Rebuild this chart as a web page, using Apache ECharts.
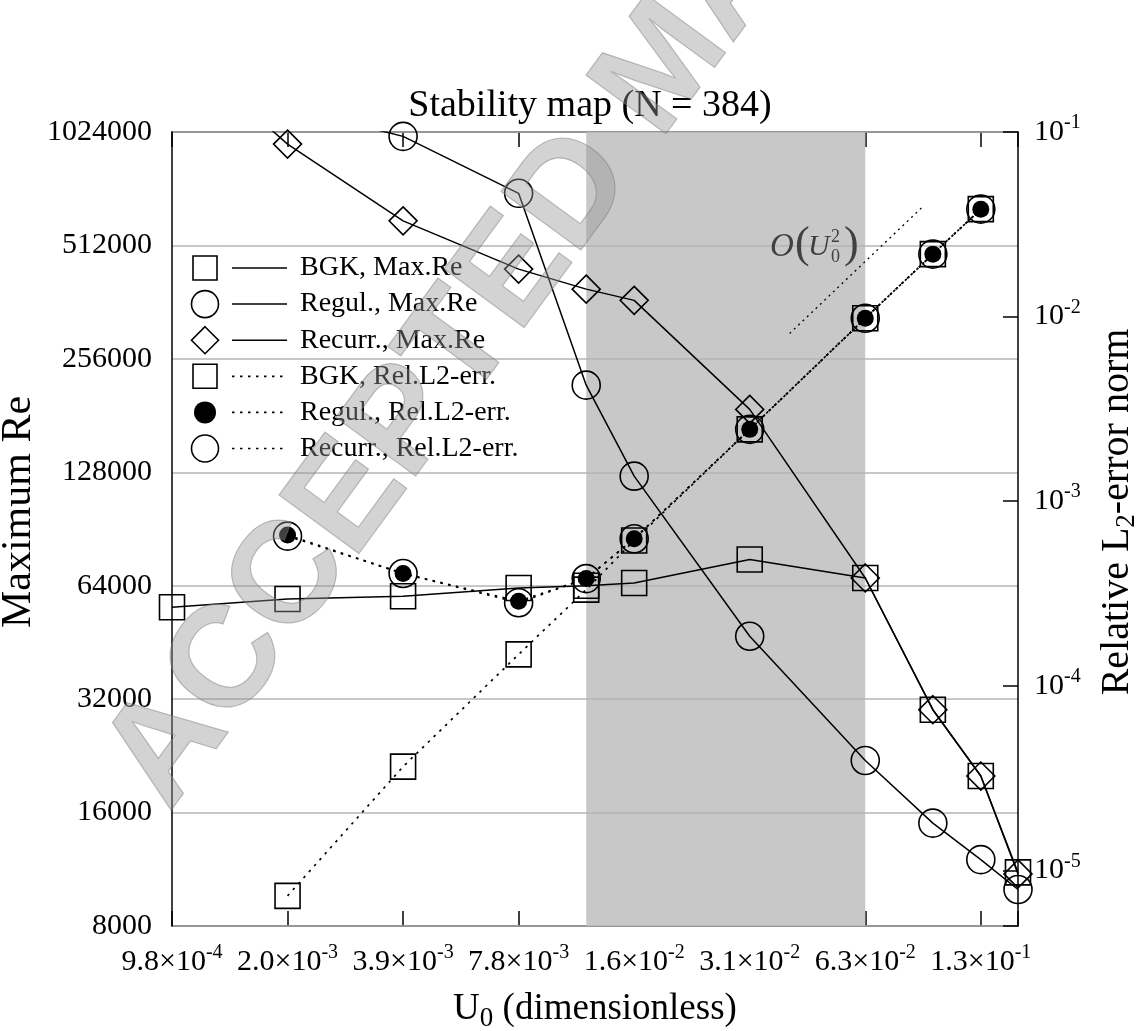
<!DOCTYPE html>
<html>
<head>
<meta charset="utf-8">
<title>Stability map (N = 384)</title>
<script src="https://cdn.jsdelivr.net/npm/echarts@6/dist/echarts.min.js"></script>
<style>
  html, body { margin: 0; padding: 0; background: #fff; }
  #chart { width: 1140px; height: 1031px; }
</style>
</head>
<body>
<div id="chart"></div>
<script>
const SERIF = '"Liberation Serif", "DejaVu Serif", serif'

// U0 of every run (x axis is log2)
const uValues = [0.0009765625, 0.001953125, 0.00390625, 0.0078125, 0.01171875, 0.015625, 0.03125, 0.0625, 0.09375, 0.125, 0.15625]
// maximum stable Re (left axis)
const bgkMaxRe = [56100, 59000, 60000, 63100, 64000, 65100, 75100, 67100, 30000, 20000, 11100]
const regulMaxRe = [null, 1190000, 997000, 704000, 218000, 125000, 47000, 22000, 15000, 12000, 10000]
const recurrMaxRe = [1770000, 951000, 595000, 443000, 392000, 366000, 188000, 67100, 30000, 20000, 11000]

// relative L2 error (right axis), runs from 2^-9 to 2^-3
const uErr = [0.001953125, 0.00390625, 0.0078125, 0.01171875, 0.015625, 0.03125, 0.0625, 0.09375, 0.125]
const bgkErr = [7.28e-6, 3.65e-5, 1.48e-4, 3.32e-4, 6.13e-4, 2.45e-3, 9.8e-3, 2.18e-2, 3.82e-2]
const regulErr = [6.56e-4, 4.06e-4, 2.87e-4, 3.81e-4, 6.26e-4, 2.45e-3, 9.8e-3, 2.18e-2, 3.82e-2]
const recurrErr = [6.47e-4, 4.06e-4, 2.82e-4, 3.81e-4, 6.26e-4, 2.45e-3, 9.8e-3, 2.18e-2, 3.82e-2]

// O(U0^2) guide line
const orderU = [0.0397, 0.0887]
const orderErr = [0.0081, 0.0398]

// shaded band
const stableBand = [0.01171875, 0.0625]

const legendLabels = ['BGK, Max.Re', 'Regul., Max.Re', 'Recurr., Max.Re', 'BGK, Rel.L2-err.', 'Regul., Rel.L2-err.', 'Recurr., Rel.L2-err.']

// left axis works in thousands so the log2 ticks land on 8000 * 2^k
function pairs(xs, ys, scale) {
    return xs.map((x, i) => [x, ys[i] == null ? '-' : ys[i] / scale])
}

function isPow(v, base) {
    const e = Math.log(v) / Math.log(base)
    return Math.abs(e - Math.round(e)) < 1e-6
}

function sciLabel(v) {
    if (!isPow(v, 2)) return ''
    const e = Math.floor(Math.log10(v) + 1e-9)
    const m = v * Math.pow(10, -e)
    return '{m|' + m.toFixed(1) + '×10}{s|' + e + '}'
}

function powLabel(v) {
    if (!isPow(v, 10)) return ''
    return '{m|10}{s|' + Math.round(Math.log10(v)) + '}'
}

const labelRich = {
    m: { fontSize: 30, fontFamily: SERIF, color: '#000', lineHeight: 38 },
    s: { fontSize: 20, fontFamily: SERIF, color: '#000', verticalAlign: 'top', lineHeight: 22 }
}

const nameRich = {
    n: { fontSize: 40, fontFamily: SERIF, color: '#000', lineHeight: 46 },
    b: { fontSize: 27, fontFamily: SERIF, color: '#000', verticalAlign: 'bottom', lineHeight: 20 }
}

const hollow = { color: 'rgba(0,0,0,0)', borderColor: '#000', borderWidth: 1.6 }
const solidLine = { color: '#000', width: 1.5, type: 'solid' }
const dotLine = { color: '#000', width: 1.7, type: [2.5, 5.5] }

const xAxisBase = {
    type: 'log',
    logBase: 2,
    min: uValues[0],
    max: uValues[uValues.length - 1],
    axisLine: { show: true, lineStyle: { color: '#000', width: 1.5 } },
    axisTick: { show: true, inside: true, length: 15, lineStyle: { color: '#000', width: 1.5 } },
    splitLine: { show: false },
    minorTick: { show: false }
}

// hand drawn legend: symbol, line sample, text
const legendGraphics = []
const legendSymbols = ['square', 'circle', 'diamond', 'square', 'dot', 'circle']
legendLabels.forEach((label, i) => {
    const y = 268 + i * 36.1
    const sym = legendSymbols[i]
    const stroke = { stroke: '#000', lineWidth: 1.6, fill: 'none' }
    if (sym === 'square') legendGraphics.push({ type: 'rect', z: 6, shape: { x: 193, y: y - 12, width: 24, height: 24 }, style: stroke })
    if (sym === 'circle') legendGraphics.push({ type: 'circle', z: 6, shape: { cx: 205, cy: y, r: 13.5 }, style: stroke })
    if (sym === 'dot') legendGraphics.push({ type: 'circle', z: 6, shape: { cx: 205, cy: y, r: 11 }, style: { fill: '#000' } })
    if (sym === 'diamond') legendGraphics.push({ type: 'polygon', z: 6, shape: { points: [[205, y - 13.5], [218.5, y], [205, y + 13.5], [191.5, y]] }, style: stroke })
    legendGraphics.push({
        type: 'line', z: 6,
        shape: { x1: 232, y1: y, x2: 287, y2: y },
        style: { stroke: '#000', lineWidth: i < 3 ? 1.5 : 1.7, lineDash: i < 3 ? null : [2.5, 5.5] }
    })
    legendGraphics.push({
        type: 'text', z: 6, x: 300, y: y,
        style: { text: label, font: '28px ' + SERIF, fill: '#000', verticalAlign: 'middle' }
    })
})

// O(U0^2) annotation, pieces placed one by one
const orderGray = '#404040'
const orderLabel = [
    { type: 'text', z: 6, x: 770, y: 247, style: { text: 'O', font: 'italic 33px ' + SERIF, fill: orderGray, verticalAlign: 'middle' } },
    { type: 'text', z: 6, x: 795, y: 245, style: { text: '(', font: '44px ' + SERIF, fill: orderGray, verticalAlign: 'middle' } },
    { type: 'text', z: 6, x: 808, y: 247, style: { text: 'U', font: 'italic 30px ' + SERIF, fill: orderGray, verticalAlign: 'middle' } },
    { type: 'text', z: 6, x: 831, y: 237, style: { text: '2', font: '18px ' + SERIF, fill: orderGray, verticalAlign: 'middle' } },
    { type: 'text', z: 6, x: 831, y: 257, style: { text: '0', font: '18px ' + SERIF, fill: orderGray, verticalAlign: 'middle' } },
    { type: 'text', z: 6, x: 844, y: 245, style: { text: ')', font: '44px ' + SERIF, fill: orderGray, verticalAlign: 'middle' } }
]

const chart = echarts.init(document.getElementById('chart'))

const option = {
    backgroundColor: '#fff',
    animation: false,
    title: {
        text: 'Stability map (N = 384)',
        left: 585,
        top: 82,
        textAlign: 'center',
        textStyle: { fontFamily: SERIF, fontSize: 38, fontWeight: 'normal', color: '#000' }
    },
    grid: { left: 172, right: 122, top: 132, bottom: 105, containLabel: false, outerBoundsMode: 'none' },
    xAxis: [
        Object.assign({}, xAxisBase, {
            position: 'bottom',
            axisLabel: { margin: 17, formatter: sciLabel, rich: labelRich, fontSize: 30, fontFamily: SERIF, color: '#000' },
            name: '{n|U}{b|0}{n| (dimensionless)}',
            nameLocation: 'middle',
            nameGap: 60,
            nameMoveOverlap: false,
            nameTextStyle: { rich: { n: Object.assign({}, nameRich.n, { fontSize: 37 }), b: nameRich.b } }
        }),
        Object.assign({}, xAxisBase, {
            position: 'top',
            axisLabel: { show: false }
        })
    ],
    yAxis: [
        {
            type: 'log',
            logBase: 2,
            min: 8,
            max: 1024,
            position: 'left',
            z: 3,
            axisLine: { show: true, lineStyle: { color: '#000', width: 1.5 } },
            axisTick: { show: false },
            minorTick: { show: false },
            splitLine: { show: true, lineStyle: { color: '#b4b4b4', width: 1.5 } },
            axisLabel: {
                margin: 20, fontSize: 30, fontFamily: SERIF, color: '#000',
                formatter: v => String(Math.round(v * 1000))
            },
            name: 'Maximum Re',
            nameLocation: 'middle',
            nameGap: 132,
            nameMoveOverlap: false,
            nameTextStyle: { fontSize: 42, fontFamily: SERIF, color: '#000', padding: [0, 0, 0, 34] }
        },
        {
            type: 'log',
            logBase: 10,
            min: 5e-6,
            max: 0.1,
            position: 'right',
            z: 3,
            axisLine: { show: true, lineStyle: { color: '#000', width: 1.5 } },
            axisTick: { show: true, inside: true, length: 15, lineStyle: { color: '#000', width: 1.5 } },
            minorTick: { show: false },
            splitLine: { show: false },
            axisLabel: { margin: 16, formatter: powLabel, rich: labelRich, fontSize: 30, fontFamily: SERIF, color: '#000' },
            name: '{n|Relative L}{b|2}{n|-error norm}',
            nameLocation: 'middle',
            nameGap: 76,
            nameMoveOverlap: false,
            nameTextStyle: { rich: nameRich, padding: [0, 0, 0, 34] }
        }
    ],
    series: [
        {
            // grey band, kept below the grid lines
            type: 'line',
            z: 1,
            data: [],
            markArea: {
                silent: true,
                z: 1,
                itemStyle: { color: '#c8c8c8' },
                data: [[{ xAxis: stableBand[0] }, { xAxis: stableBand[1] }]]
            }
        },
        {
            name: legendLabels[0], type: 'line', yAxisIndex: 0, z: 5,
            data: pairs(uValues, bgkMaxRe, 1000),
            symbol: 'rect', symbolSize: 25, itemStyle: hollow, lineStyle: solidLine
        },
        {
            name: legendLabels[1], type: 'line', yAxisIndex: 0, z: 5,
            data: pairs(uValues, regulMaxRe, 1000),
            symbol: 'circle', symbolSize: 28, itemStyle: hollow, lineStyle: solidLine
        },
        {
            name: legendLabels[2], type: 'line', yAxisIndex: 0, z: 5,
            data: pairs(uValues, recurrMaxRe, 1000),
            symbol: 'diamond', symbolSize: [28, 28], itemStyle: hollow, lineStyle: solidLine
        },
        {
            name: legendLabels[3], type: 'line', yAxisIndex: 1, z: 5,
            data: pairs(uErr, bgkErr, 1),
            symbol: 'rect', symbolSize: 25, itemStyle: hollow, lineStyle: dotLine
        },
        {
            name: legendLabels[5], type: 'line', yAxisIndex: 1, z: 5,
            data: pairs(uErr, recurrErr, 1),
            symbol: 'circle', symbolSize: 28, itemStyle: hollow, lineStyle: dotLine
        },
        {
            name: legendLabels[4], type: 'line', yAxisIndex: 1, z: 5,
            data: pairs(uErr, regulErr, 1),
            symbol: 'circle', symbolSize: 17, itemStyle: { color: '#000' }, lineStyle: dotLine
        },
        {
            name: 'O(U0^2)', type: 'line', yAxisIndex: 1, z: 5,
            data: pairs(orderU, orderErr, 1),
            symbol: 'none', lineStyle: { color: '#000', width: 1.3, type: [2, 4] }
        }
    ],
    graphic: legendGraphics.concat(orderLabel, [
        {
            // watermark laid over the plot
            type: 'text',
            x: 195, y: 832,
            rotation: 53.8 * Math.PI / 180,
            z: 100,
            silent: true,
            style: {
                text: 'ACCEPTED MANUSCRIPT',
                font: 'bold 144px "Liberation Sans", Arial, sans-serif',
                fill: 'rgba(150,150,150,0.42)',
                stroke: 'rgba(110,110,110,0.45)',
                lineWidth: 1.2,
                verticalAlign: 'bottom'
            }
        }
    ])
}

chart.setOption(option)
</script>
</body>
</html>
